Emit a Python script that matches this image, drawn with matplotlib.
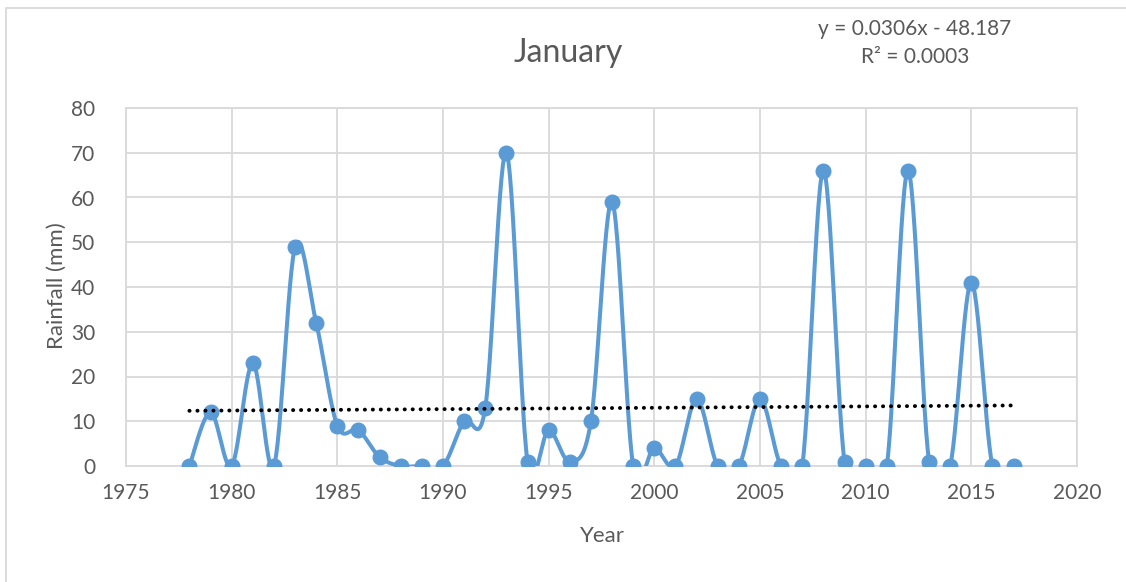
import matplotlib.pyplot as plt
import numpy as np
from matplotlib.lines import Line2D

plt.rcParams["font.family"] = ["Lato", "DejaVu Sans"]

years = np.arange(1978, 2018)
rainfall = [0, 12, 0, 23, 0, 49, 32, 9, 8, 2,
            0, 0, 0, 10, 13, 70, 1, 8, 1, 10,
            59, 0, 4, 0, 15, 0, 0, 15, 0, 0,
            66, 1, 0, 0, 66, 1, 0, 41, 0, 0]
slope, intercept = 0.0306, -48.187
r_squared = 0.0003

BLUE = "#5B9BD5"
GREY = "#595959"
GRID = "#D9D9D9"


def smooth(x, y, n=30):
    """Catmull-Rom style cubic Bezier through every point (like a smoothed line)."""
    x = np.asarray(x, float)
    y = np.asarray(y, float)
    px = np.concatenate([[x[0]], x, [x[-1]]])
    py = np.concatenate([[y[0]], y, [y[-1]]])
    t = np.linspace(0, 1, n)[:, None]
    xs, ys = [], []
    for i in range(1, len(px) - 2):
        p0 = np.array([px[i], py[i]])
        p3 = np.array([px[i + 1], py[i + 1]])
        c1 = p0 + (p3 - np.array([px[i - 1], py[i - 1]])) / 6
        c2 = p3 - (np.array([px[i + 2], py[i + 2]]) - p0) / 6
        seg = ((1 - t) ** 3) * p0 + 3 * ((1 - t) ** 2) * t * c1 \
            + 3 * (1 - t) * t ** 2 * c2 + t ** 3 * p3
        xs.append(seg[:, 0])
        ys.append(seg[:, 1])
    return np.concatenate(xs), np.concatenate(ys)


fig = plt.figure(figsize=(11.26, 5.82), dpi=100)
ax = fig.add_axes([126 / 1126, 1 - 466 / 582, (1077 - 126) / 1126, (466 - 108) / 582])

sx, sy = smooth(years, rainfall)
ax.plot(sx, sy, color=BLUE, lw=2.9, zorder=3, solid_capstyle="round")
ax.plot(years, rainfall, "o", color=BLUE, ms=10.5, zorder=4)

trend_x = np.array([years[0], years[-1]])
ax.plot(trend_x, slope * trend_x + intercept, color="black", lw=2.8,
        linestyle=(0, (0.05, 2.0)), dash_capstyle="round", zorder=5)

ax.set_xlim(1975, 2020)
ax.set_ylim(0, 80)
ax.set_xticks(np.arange(1975, 2021, 5))
ax.set_yticks(np.arange(0, 81, 10))
ax.grid(True, color=GRID, lw=1.3)
ax.set_axisbelow(True)
for side in ax.spines.values():
    side.set_color(GRID)
    side.set_linewidth(1.3)
ax.tick_params(length=0, labelsize=15, colors=GREY, pad=12)
ax.tick_params(axis="y", pad=22)

fig.text(57 / 1126, 1 - 286 / 582, "Rainfall (mm)", rotation=90, ha="center",
         va="center", fontsize=16, color=GREY)
fig.text(602 / 1126, 1 - 536 / 582, "Year", ha="center", va="center",
         fontsize=16, color=GREY)
fig.text(568 / 1126, 1 - 53 / 582, "January", ha="center", va="center",
         fontsize=23, color=GREY)
fig.text(915 / 1126, 1 - 29 / 582, f"y = {slope}x - {abs(intercept)}",
         ha="center", va="center", fontsize=15, color=GREY)
fig.text(915 / 1126, 1 - 57 / 582, f"R² = {r_squared}",
         ha="center", va="center", fontsize=15, color=GREY)

# chart frame (top and left edges)
fig.add_artist(Line2D([6 / 1126, 6 / 1126, 1], [0, 1 - 8 / 582, 1 - 8 / 582],
                      transform=fig.transFigure, color=GRID, lw=1.3))

fig.savefig("out.png", dpi=100)
